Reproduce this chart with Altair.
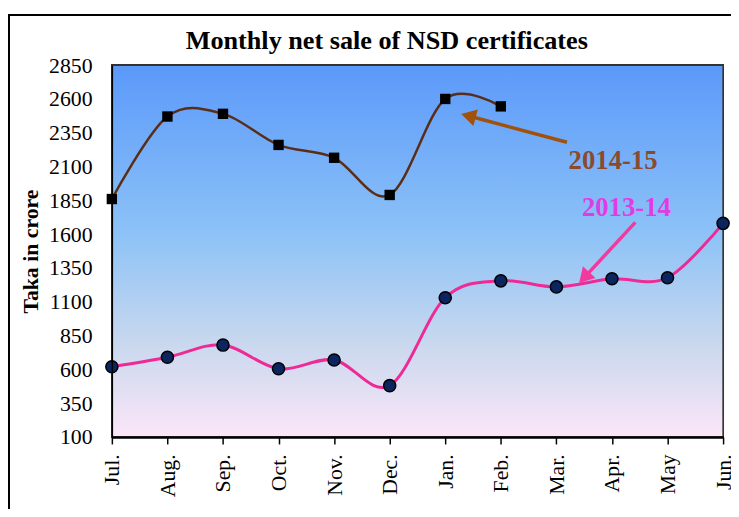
import json
import altair as alt
import pandas as pd

title_text = "Monthly net sale of NSD certificates"
months = ["Jul.", "Aug.", "Sep.", "Oct.", "Nov.", "Dec.", "Jan.", "Feb.", "Mar.", "Apr.", "May", "Jun."]
sales_2014_15 = [1860, 2470, 2490, 2260, 2165, 1890, 2600, 2545]
sales_2013_14 = [620, 690, 780, 605, 670, 480, 1130, 1255, 1210, 1270, 1278, 1680]
y_ticks = [100, 350, 600, 850, 1100, 1350, 1600, 1850, 2100, 2350, 2600, 2850]

# annotations (in data coordinates: month index, value)
label_text = ["2014-15", "2013-14"]
label_x = [9.02, 9.26]
label_y = [2140, 1793]
arrow_x1 = [8.19, 9.42]
arrow_y1 = [2280, 1687]
arrow_x2 = [6.46, 8.53]
arrow_y2 = [2470, 1292]

FONT = "Liberation Serif"
W, H = 618, 376

df14 = pd.DataFrame({"m": list(range(len(sales_2014_15))), "v": sales_2014_15})
df13 = pd.DataFrame({"m": list(range(len(sales_2013_14))), "v": sales_2013_14})
arrows = pd.DataFrame({"x1": arrow_x1, "y1": arrow_y1, "x2": arrow_x2, "y2": arrow_y2})
labels = pd.DataFrame({"t": label_text, "x": label_x, "y": label_y})
title_df = pd.DataFrame({"t": [title_text]})

xscale = alt.Scale(domain=[0, 11], nice=False, zero=False)
yscale = alt.Scale(domain=[100, 2850], nice=False, zero=False)

xaxis = alt.Axis(
    values=list(range(12)),
    labelExpr=f"{json.dumps(months)}[datum.value]",
    labelAngle=-90, labelAlign="right", labelBaseline="middle",
    labelFont=FONT, labelFontSize=22, labelColor="black", labelPadding=10,
    tickSize=7, tickColor="black", tickWidth=1.5,
    domainColor="black", domainWidth=2.5, grid=False, title=None, zindex=1,
    labelOverlap=False,
)
yaxis = alt.Axis(
    values=y_ticks, format="d", labelFont=FONT, labelFontSize=22, labelColor="black",
    labelPadding=20, ticks=False, domainColor="black", domainWidth=1.5,
    grid=False, title="Taka in crore", titleFont=FONT, titleFontSize=22,
    titleFontWeight="bold", titleColor="black", titlePadding=6, zindex=1,
    labelOverlap=False,
)

gradient = alt.Gradient(
    gradient="linear",
    stops=[
        alt.GradientStop(color="#5B99FA", offset=0),
        alt.GradientStop(color="#8CC2F7", offset=0.45),
        alt.GradientStop(color="#C9D8EE", offset=0.75),
        alt.GradientStop(color="#FCE6F8", offset=1),
    ],
    x1=0, x2=0, y1=0, y2=1,
)

x_enc = alt.X("m:Q", scale=xscale, axis=xaxis)
y_enc = alt.Y("v:Q", scale=yscale, axis=yaxis)

bg = alt.Chart(df14).mark_rect(fill=gradient, stroke="#333333", strokeWidth=1.5).encode(
    x=alt.value(0), x2=alt.value(W), y=alt.value(0), y2=alt.value(H)
)
frame = alt.Chart(df14).mark_rect(fill=None, stroke="black", strokeWidth=1.5).encode(
    x=alt.value(-104), x2=alt.value(W + 60), y=alt.value(-51), y2=alt.value(H + 120)
)
title_mark = alt.Chart(title_df).mark_text(
    font=FONT, fontSize=26.5, fontWeight="bold", color="black", baseline="alphabetic", align="center"
).encode(x=alt.value(W / 2 - 31), y=alt.value(-16), text="t:N")

line14 = alt.Chart(df14).mark_line(color="#5A2E16", strokeWidth=2.5, interpolate="cardinal").encode(x=x_enc, y=y_enc)
pts14 = alt.Chart(df14).mark_point(shape="square", filled=True, color="black", size=110, opacity=1).encode(x=x_enc, y=y_enc)
line13 = alt.Chart(df13).mark_line(color="#EE2A96", strokeWidth=3, interpolate="cardinal").encode(x=x_enc, y=y_enc)
pts13 = alt.Chart(df13).mark_point(shape="circle", filled=True, fill="#0B2560", stroke="black", strokeWidth=1.5, size=150, opacity=1).encode(x=x_enc, y=y_enc)

arrow_colors = ["#A0520C", "#F23A9E"]
arrow_angles = [285, 223]
arrow_layers = []
for i in range(2):
    a = arrows.iloc[[i]]
    arrow_layers.append(
        alt.Chart(a).mark_rule(color=arrow_colors[i], strokeWidth=3.5).encode(
            x=alt.X("x1:Q", scale=xscale, axis=xaxis), y=alt.Y("y1:Q", scale=yscale, axis=yaxis),
            x2="x2:Q", y2="y2:Q")
    )
    arrow_layers.append(
        alt.Chart(a).mark_point(shape="triangle", filled=True, color=arrow_colors[i], size=300,
                                angle=arrow_angles[i], opacity=1).encode(
            x=alt.X("x2:Q", scale=xscale, axis=xaxis), y=alt.Y("y2:Q", scale=yscale, axis=yaxis))
    )

text_colors = ["#8B4A2E", "#E03CE6"]
text_layers = []
for i in range(2):
    text_layers.append(
        alt.Chart(labels.iloc[[i]]).mark_text(font=FONT, fontSize=27, fontWeight="bold",
                                               color=text_colors[i]).encode(
            x=alt.X("x:Q", scale=xscale, axis=xaxis), y=alt.Y("y:Q", scale=yscale, axis=yaxis), text="t:N")
    )

chart = alt.layer(bg, frame, title_mark, line14, line13, *arrow_layers, pts14, pts13, *text_layers).properties(
    width=W, height=H,
    autosize=alt.AutoSizeParams(type="none"),
    padding={"left": 105, "top": 55, "right": 8, "bottom": 70},
).configure_view(stroke=None).configure_axis(labelOverlap=False).configure(background="white")

chart.save("out.html", embed_options={"renderer": "svg", "actions": False})
